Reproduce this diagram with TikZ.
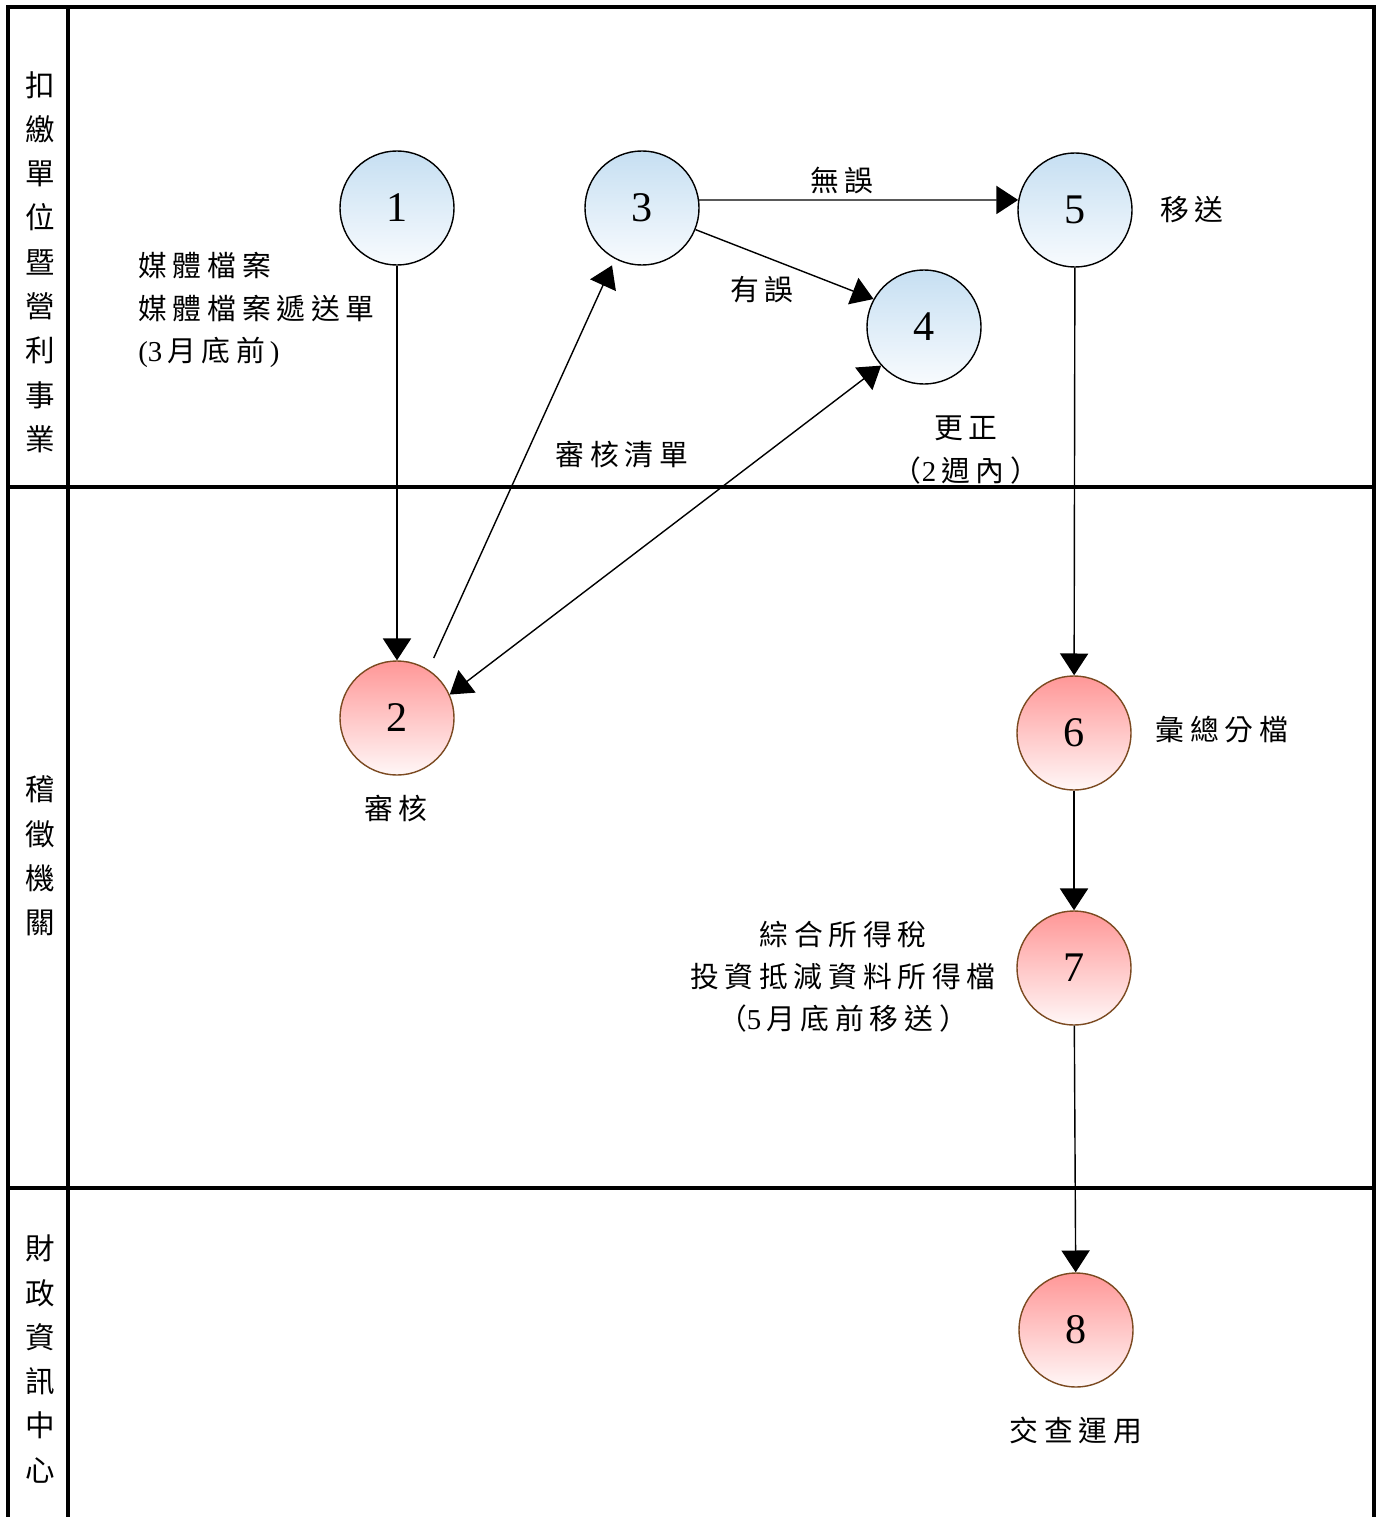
\documentclass[tikz,border=0pt]{standalone}
\usepackage{fontspec}
\setmainfont{Liberation Serif}
\newfontfamily\cj[LetterSpace=20]{Noto Sans CJK TC}
\usetikzlibrary{arrows.meta}
\definecolor{blueTop}{HTML}{C6DFF2}
\definecolor{blueBot}{HTML}{F8FBFE}
\definecolor{redTop}{HTML}{FF9797}
\definecolor{redBot}{HTML}{FFF7F7}
\definecolor{brownB}{HTML}{7B4A21}
\newcommand{\nm}[1]{{\rmfamily #1}}
\begin{document}
\begin{tikzpicture}[x=0.025cm,y=-0.025cm,
  proc/.style={circle,minimum size=2.85cm,inner sep=0pt,line width=1pt,font=\fontsize{30}{30}\selectfont},
  blueproc/.style={proc,draw=black,top color=blueTop,bottom color=blueBot},
  redproc/.style={proc,draw=brownB,top color=redTop,bottom color=redBot},
  flow/.style={line width=1pt,-{Triangle[length=15.5pt,width=20pt]}},
  flow2/.style={line width=1pt,{Triangle[length=15.5pt,width=20pt]}-{Triangle[length=15.5pt,width=20pt]}},
  lbl/.style={font=\cj\fontsize{20.5}{30}\selectfont,align=center,inner sep=0pt},
  lane/.style={font=\cj\fontsize{21}{31.5}\selectfont,align=center,inner sep=0pt},
  frame/.style={line width=2.2pt}
]
\useasboundingbox (0,0) rectangle (1384,1517);
% frame
\coordinate (tl) at (8,7);
\coordinate (tr) at (1374,7);
\coordinate (bl) at (8,1517);
\coordinate (br) at (1374,1517);
\coordinate (dt) at (68,7);
\coordinate (db) at (68,1517);
\coordinate (h1l) at (8,487);
\coordinate (h1r) at (1374,487);
\coordinate (h2l) at (8,1188);
\coordinate (h2r) at (1374,1188);
\draw[frame] (bl) -- (tl) -- (tr) -- (br);
\draw[frame] (dt) -- (db);
\draw[frame] (h1l) -- (h1r);
\draw[frame] (h2l) -- (h2r);
% lane labels
\node[lane] (L1) at (40,262) {扣\\繳\\單\\位\\暨\\營\\利\\事\\業};
\node[lane] (L2) at (40,856) {稽\\徵\\機\\關};
\node[lane] (L3) at (40,1359) {財\\政\\資\\訊\\中\\心};
% process nodes
\node[blueproc] (n1) at (397,208) {1};
\node[blueproc] (n3) at (642,208) {3};
\node[blueproc] (n5) at (1075,210) {5};
\node[blueproc] (n4) at (924,327) {4};
\node[redproc] (n2) at (397,718) {2};
\node[redproc] (n6) at (1074,733) {6};
\node[redproc] (n7) at (1074,968) {7};
\node[redproc] (n8) at (1076,1330) {8};
% connectors
\draw[flow] (n1) -- (n2);
\draw[flow,shorten <=9pt,shorten >=5pt] (n2.57) -- (n3.242);
\draw[flow] (n3.8) -- (n5.170);
\draw[flow] (n3.338) -- (n4.151);
\draw[flow2] (n4.222) -- (n2.24);
\draw[flow] (n5) -- (n6);
\draw[flow] (n6) -- (n7);
\draw[flow] (n7) -- (n8);
% labels
\node[lbl,align=left,anchor=west] (t1) at (138,310) {媒體檔案\\媒體檔案遞送單\\\nm{(3\,}月底前\nm{\,)}};
\node[lbl] (t2) at (622,455) {審核清單};
\node[lbl] (t3) at (842,180) {無誤};
\node[lbl] (t4) at (762,290) {有誤};
\node[lbl] (t5) at (966,450) {更正\\（\nm{2\,}週內）};
\node[lbl] (t6) at (1192,210) {移送};
\node[lbl] (t7) at (396,808) {審核};
\node[lbl] (t8) at (1222,730) {彙總分檔};
\node[lbl] (t9) at (843,977) {綜合所得稅\\投資抵減資料所得檔\\（\nm{5\,}月底前移送）};
\node[lbl] (t10) at (1076,1430) {交查運用};
\end{tikzpicture}
\end{document}
